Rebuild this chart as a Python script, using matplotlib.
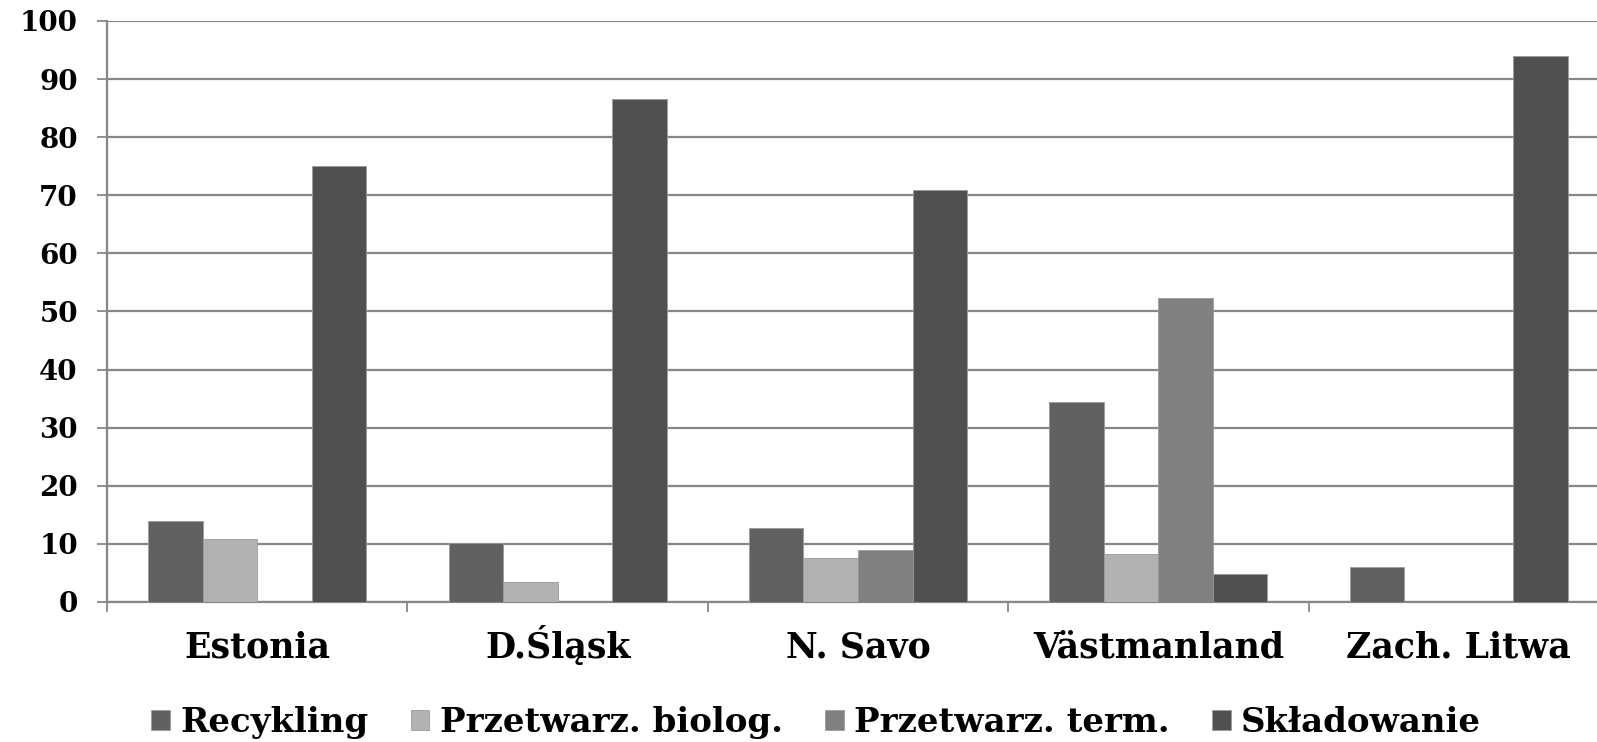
import numpy as np
import matplotlib.pyplot as plt

regions = ['Estonia', 'D.Śląsk', 'N. Savo', 'Västmanland', 'Zach. Litwa']
series = ['Recykling', 'Przetwarz. biolog.', 'Przetwarz. term.', 'Składowanie']

recykling = [14.0, 10.1, 12.7, 34.5, 6.1]
biolog = [10.9, 3.5, 7.6, 8.3, 0.0]
term = [0.0, 0.0, 9.0, 52.4, 0.0]
skladowanie = [75.1, 86.5, 70.9, 4.8, 94.0]

colors = ['#616161', '#b2b2b2', '#808080', '#505050']
grid_col = '#878787'

plt.rcParams['font.family'] = ['DejaVu Serif']
plt.rcParams['font.weight'] = 'bold'

fig = plt.figure(figsize=(15.97, 7.42), dpi=100)
ax = fig.add_axes([107 / 1597, 140 / 742, 1502 / 1597, 581 / 742])

x = np.arange(len(regions))
width = 0.1815
values = [recykling, biolog, term, skladowanie]
for i, (name, vals, c) in enumerate(zip(series, values, colors)):
    ax.bar(x + (i - 1.5) * width, vals, width, color=c, label=name,
           edgecolor='#9a9a9a', linewidth=0.6, zorder=3)

ax.set_xlim(-0.5, len(regions) - 0.5)
ax.set_ylim(0, 100)
ax.set_yticks(range(0, 101, 10))
ax.yaxis.grid(True, color=grid_col, linewidth=1.6, zorder=0)
ax.set_axisbelow(True)

# category boundaries get the tick marks, names sit in between
ax.set_xticks(np.arange(-0.5, len(regions) - 0.5, 1.0))
ax.set_xticklabels([])
ax.set_xticks(x, minor=True)
ax.set_xticklabels(regions, minor=True, fontsize=25, fontweight='bold')
for lbl in ax.get_xticklabels(minor=True):
    lbl.set_verticalalignment('baseline')
ax.tick_params(axis='x', which='minor', length=0, pad=40)
ax.tick_params(axis='x', which='major', length=7, width=1.3, color=grid_col)
ax.tick_params(axis='y', length=7, width=1.3, color=grid_col, pad=14, labelsize=20)

for side in ['top', 'right']:
    ax.spines[side].set_visible(False)
for side in ['left', 'bottom']:
    ax.spines[side].set_color(grid_col)
    ax.spines[side].set_linewidth(1.6)

fig.legend(loc='center', bbox_to_anchor=(0.511, 0.026), ncol=4, frameon=False,
           fontsize=24.5, handlelength=0.55, handleheight=0.55, handletextpad=0.3,
           columnspacing=1.25)

fig.savefig('out.png', dpi=100)
